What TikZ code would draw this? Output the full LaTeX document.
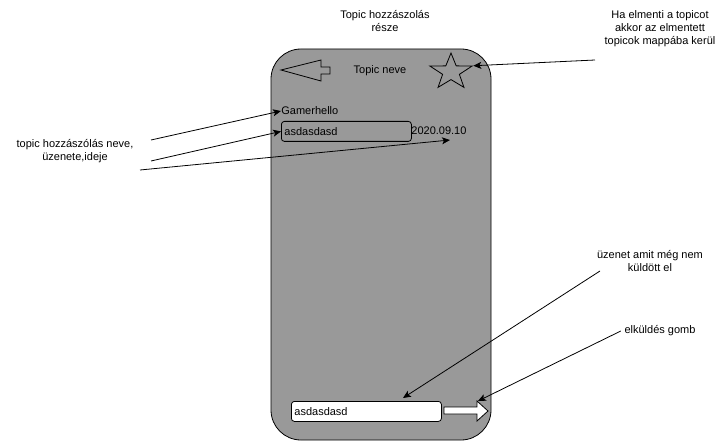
\documentclass[tikz,border=0pt]{standalone}
\usepackage{fontspec}
\setmainfont{Liberation Sans}
\usepackage{xcolor}
\definecolor{phonegray}{HTML}{999999}
\usepackage{tikz}
\usetikzlibrary{arrows.meta}
\usetikzlibrary{positioning}
\usetikzlibrary{shapes.geometric}

\tikzset{
  inputbox/.style={draw, rounded corners=3pt, minimum height=20pt, inner sep=3pt, align=left},
  pointer/.style={-{Stealth[length=8pt,width=7pt,inset=2pt]}, line width=0.8pt},
}

\begin{document}
\begin{tikzpicture}[x=1pt,y=-1pt,line width=0.8pt,font=\fontsize{11}{13}\selectfont]
          \useasboundingbox (0,0) rectangle (726,441);
          \node[align=center] (title) at (385,21) {Topic hozzászolás\\része};
          \draw[fill=phonegray, rounded corners=30pt] (271,49) rectangle (491,440);
          % header
          \draw (281,70) -- (321,60) -- (321,67) -- (330,67) -- (330,74) -- (321,74) -- (321,81) -- cycle;
          \node (topicname) at (380,71) {Topic neve};
          \node[star, star points=5, star point ratio=2.5, draw, minimum size=38pt, inner sep=0pt, xscale=1.16] (star) at (451,72) {};
          \node[align=center] (savenote) at (660,29) {Ha elmenti a topicot\\akkor az elmentett\\topicok mappába kerül};
          \coordinate (savefrom) at (595,60);
          \draw[pointer] (savefrom) -- (star.outer point 5);
          % comment
          \node[anchor=west, inner sep=0pt] (gamer) at (281,111) {Gamerhello};
          \node[inputbox, text width=124pt, anchor=north west] (comment) at (281,121) {asdasdasd};
          \node[anchor=west, inner sep=0pt] (date) at (411,131) {2020.09.10};
          \node[align=center] (leftnote) at (75,151) {topic hozzászólás neve,\\üzenete,ideje};
          \coordinate (from1) at (151,140);
          \coordinate (from2) at (151,161);
          \coordinate (from3) at (140,170);
          \coordinate (dateptr) at (450,140);
          \draw[pointer] (from1) -- (gamer.west);
          \draw[pointer] (from2) -- (comment.west);
          \draw[pointer] (from3) -- (dateptr);
          % bottom
          \node[inputbox, fill=white, text width=144pt, anchor=north west] (draft) at (291,401) {asdasdasd};
          \draw[fill=white] (444,407) -- (477,407) -- (477,401) -- (488,411) -- (477,421) -- (477,414) -- (444,414) -- cycle;
          \coordinate (sendbtn) at (478,401);
          \coordinate (draftptr) at (403,398);
          \node[align=center] (draftnote) at (650,261) {üzenet amit még nem\\küldött el};
          \node (sendnote) at (660,331) {elküldés gomb};
          \coordinate (draftfrom) at (600,271);
          \draw[pointer] (draftfrom) -- (draftptr);
          \draw[pointer] (sendnote.west) -- (sendbtn);
      \end{tikzpicture}
\end{document}
